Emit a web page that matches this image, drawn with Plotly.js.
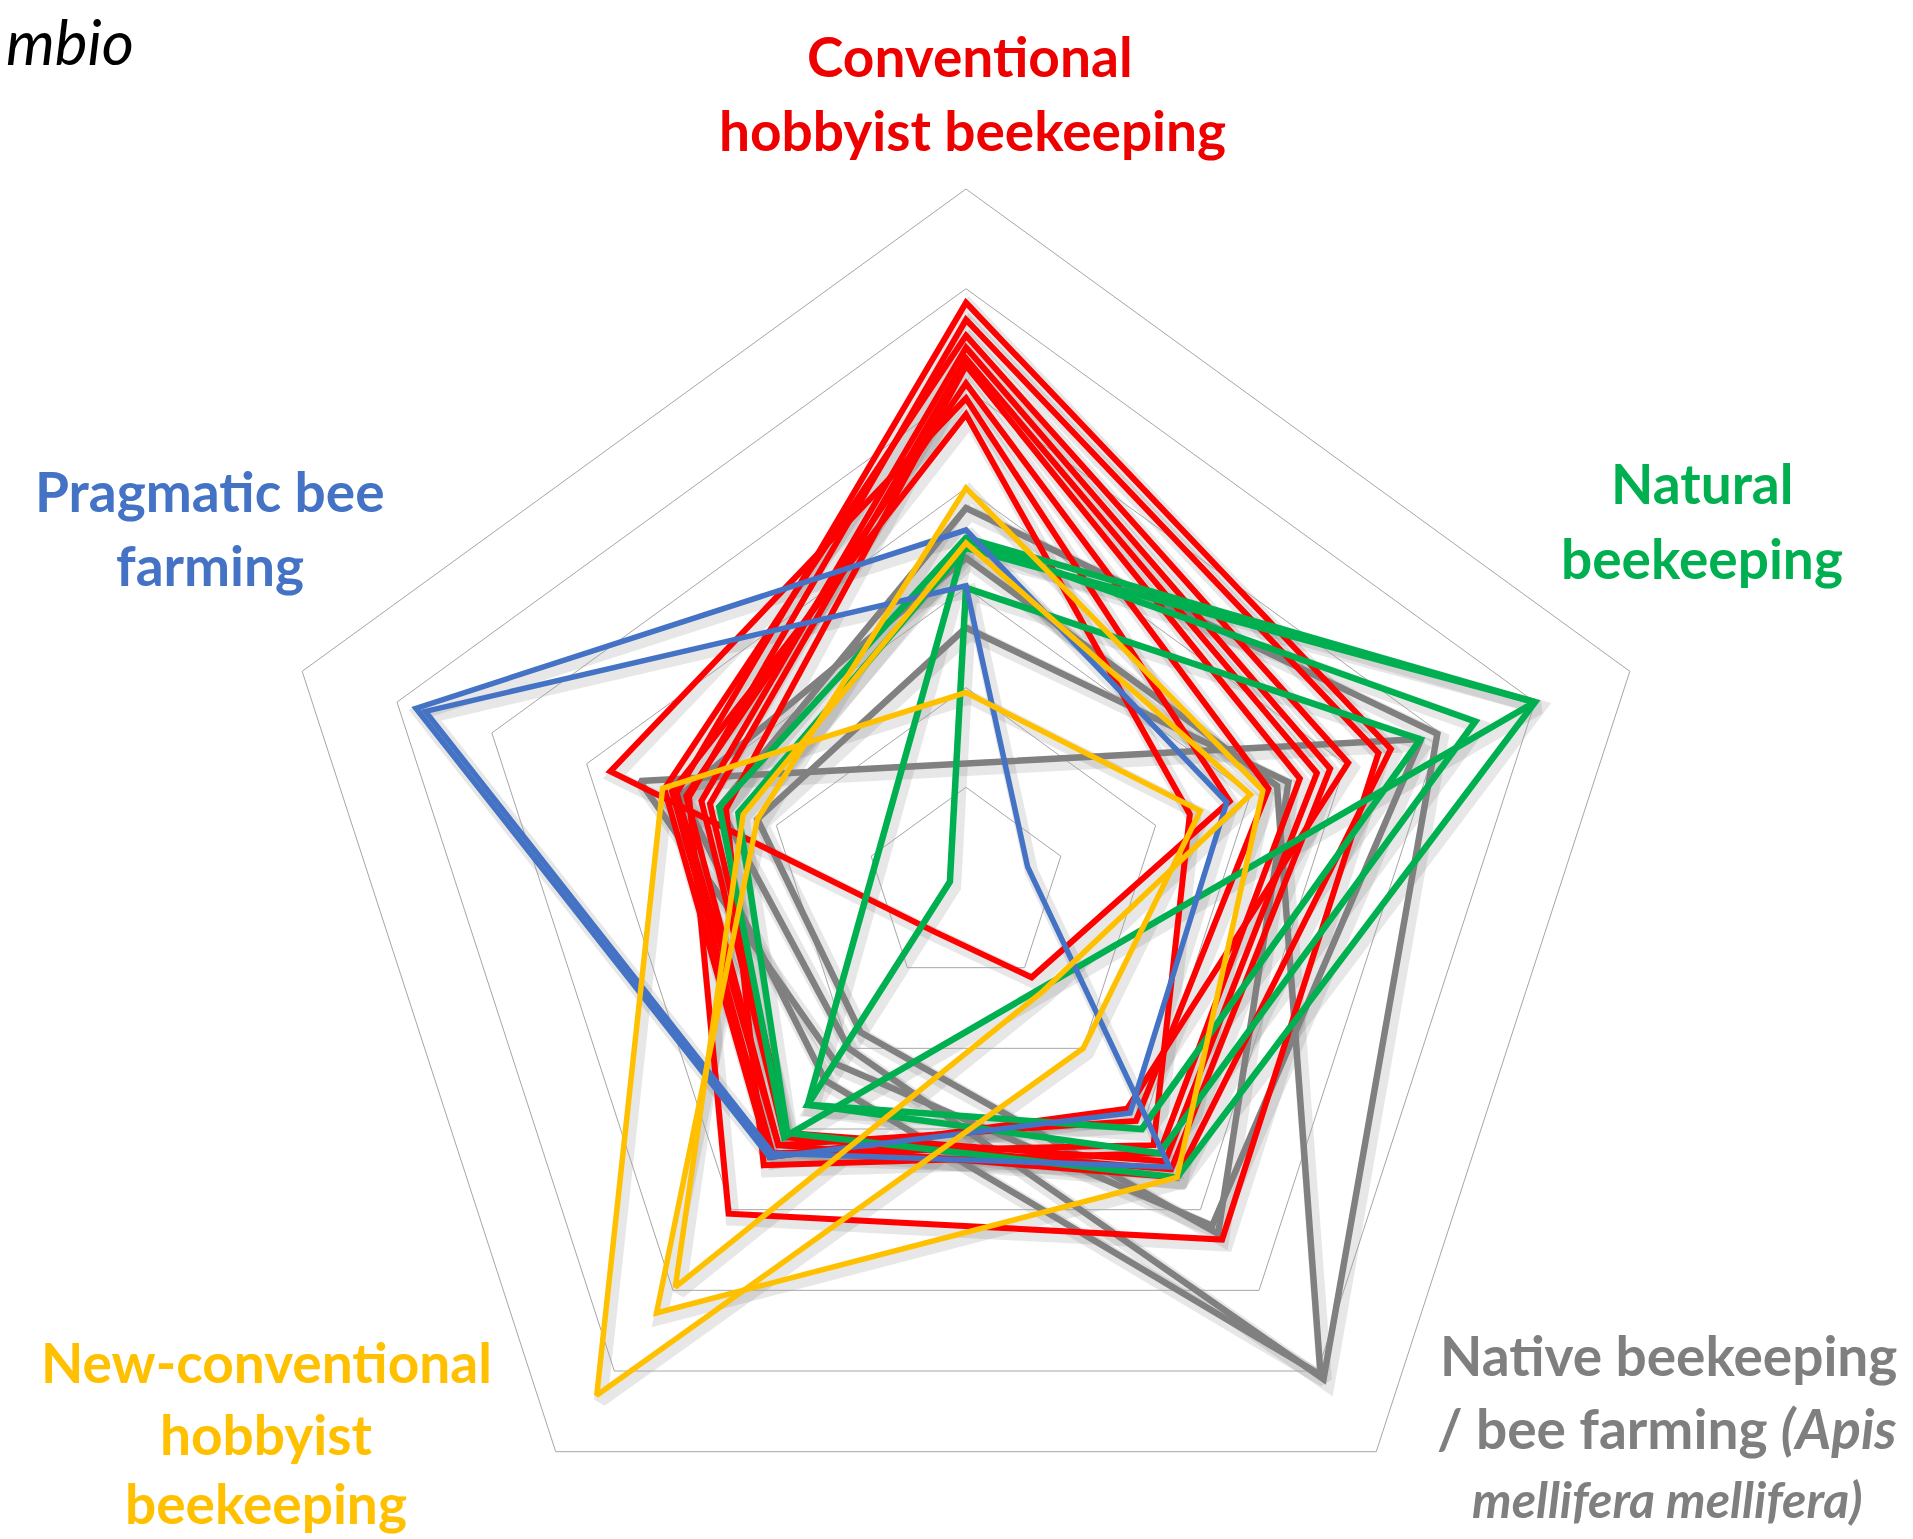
<!DOCTYPE html>
<html>
<head>
<meta charset="utf-8">
<script src="https://cdn.plot.ly/plotly-3.0.1.min.js"></script>
<style>
html,body{margin:0;padding:0;background:#fff;overflow:hidden;}
#chart{width:1913px;height:1600px;}
</style>
</head>
<body>
<div id="chart"></div>
<script>
// Axes (clockwise from top)
const categories = [
  "Conventional hobbyist beekeeping",
  "Natural beekeeping",
  "Native beekeeping / bee farming",
  "New-conventional hobbyist beekeeping",
  "Pragmatic bee farming"
];

// Scores per respondent, order = categories; null = no value (line skips it)
const red1 = [5.86, 4.48, 3.6, 3.2, 3.05];
const red2 = [5.69, 4.35, 4.37, 4.05, 2.92];
const red3 = [5.53, 4.03, 2.75, 3.35, 3.18];
const red4 = [5.41, 3.84, 3.5, 3.1, 2.79];
const red5 = [5.23, 3.52, 3.3, 3.45, 2.53];
const red6 = [5.05, 3.19, 2.9, 3.2, 2.95];
const red7 = [4.9, 2.78, 1.12, 0.55, 3.75];
const red8 = [4.74, 2.36, 3.2, 3.3, 3.1];
const red9 = [5.3, 3.7, 3.4, 3.05, 2.7];

const green1 = [3.5, 6.0, null, 3.1, 2.6];
const green2 = [3.4, 6.0, 3.6, 3.05, 2.4];
const green3 = [3.48, 5.37, 3.3, 2.7, null];
const green4 = [3.0, 4.79, 3.0, 2.7, 0.17];

const blue1 = [3.58, 2.75, 2.8, 3.35, 5.8];
const blue2 = [3.02, 0.65, 3.47, 3.3, 5.7];

const yellow1 = [4.0, 3.13, 3.6, 5.28, 2.2];
const yellow2 = [1.95, 2.47, 2.0, 6.3, 3.2];
const yellow3 = [3.45, 3.0, 1.3, 4.96, 2.35];

const grey1 = [null, 4.8, 4.2, 2.2, 3.44];
const grey2 = [3.8, 4.97, 6.1, 2.0, 2.6];
const grey3 = [3.3, 3.28, 6.05, 2.4, 3.0];
const grey4 = [2.6, 3.4, 4.3, 1.8, 2.2];

const groups = [
  {color: "#808080", width: 6.5, series: [grey1, grey2, grey3, grey4]},
  {color: "#ff0000", width: 6, series: [red1, red2, red3, red4, red5, red6, red7, red8, red9]},
  {color: "#00b050", width: 6.5, series: [green1, green2, green3, green4]},
  {color: "#4472c4", width: 5.5, series: [blue1, blue2]},
  {color: "#ffc000", width: 5.5, series: [yellow1, yellow2, yellow3]}
];

// Labels
const labelLines = [
  {text: "Conventional", x: 970, y: 56, color: "#ee0000"},
  {text: "hobbyist beekeeping", x: 972, y: 130, color: "#ee0000"},
  {text: "Pragmatic bee", x: 210, y: 491, color: "#4472c4"},
  {text: "farming", x: 210, y: 565, color: "#4472c4"},
  {text: "Natural", x: 1702, y: 483, color: "#00b050"},
  {text: "beekeeping", x: 1702, y: 558, color: "#00b050"},
  {text: "New-conventional", x: 266, y: 1362, color: "#ffc000"},
  {text: "hobbyist", x: 266, y: 1434, color: "#ffc000"},
  {text: "beekeeping", x: 266, y: 1503, color: "#ffc000"},
  {text: "Native beekeeping", x: 1668, y: 1355, color: "#7f7f7f"},
  {text: "/ bee farming <i>(Apis</i>", x: 1667, y: 1428, color: "#7f7f7f"},
  {text: "<i>mellifera mellifera)</i>", x: 1667, y: 1499, color: "#7f7f7f", size: 50}
];

const W = 1913, H = 1600;
const CX = 966, CY = 887, R = 698;
const px = x => x / W;
const py = y => 1 - y / H;

function closed(v) { return v.concat(v.slice(0, 2)); }
const theta = closed(categories);

const traces = [];
// shadow layer (polar) then main layer (polar2)
groups.forEach(g => g.series.forEach(s => {
  traces.push({type: "scatterpolar", mode: "lines", r: closed(s), theta: theta,
    connectgaps: true, subplot: "polar", hoverinfo: "skip",
    line: {color: "rgba(70,70,70,0.13)", width: g.width + 8}});
}));
groups.forEach(g => g.series.forEach(s => {
  traces.push({type: "scatterpolar", mode: "lines", r: closed(s), theta: theta,
    connectgaps: true, subplot: "polar2",
    line: {color: g.color, width: g.width}});
}));

function dom(dx, dy) {
  return {
    x: [px(CX - R + dx), px(CX + R + dx)],
    y: [py(CY + R + dy), py(CY - R + dy)]
  };
}

const baseAngular = {type: "category", categoryarray: categories, rotation: 90,
  direction: "clockwise", showticklabels: false, ticks: "", showgrid: false};

const layout = {
  width: W, height: H,
  margin: {l: 0, r: 0, t: 0, b: 0},
  paper_bgcolor: "#ffffff",
  showlegend: false,
  polar: {
    domain: dom(4, 5), bgcolor: "rgba(0,0,0,0)", gridshape: "linear",
    radialaxis: {range: [0, 7], showgrid: false, showline: false, showticklabels: false, ticks: ""},
    angularaxis: Object.assign({}, baseAngular, {showline: false})
  },
  polar2: {
    domain: dom(0, 0), bgcolor: "rgba(0,0,0,0)", gridshape: "linear",
    radialaxis: {range: [0, 7], dtick: 1, showgrid: true, gridcolor: "#a6a6a6", gridwidth: 1,
      showline: false, showticklabels: false, ticks: ""},
    angularaxis: Object.assign({}, baseAngular, {showline: true, linecolor: "#a6a6a6", linewidth: 1})
  },
  annotations: labelLines.map(l => ({
    text: "<b>" + l.text + "</b>", x: px(l.x), y: py(l.y), xref: "paper", yref: "paper",
    xanchor: "center", yanchor: "middle", showarrow: false,
    font: {family: "Lato, 'Open Sans', sans-serif", size: l.size || 55, color: l.color}
  })).concat([{
    text: "<i>mbio</i>", x: px(4), y: py(41), xref: "paper", yref: "paper",
    xanchor: "left", yanchor: "middle", showarrow: false,
    font: {family: "Lato, sans-serif", size: 62, color: "#000000"}
  }])
};

Plotly.newPlot("chart", traces, layout, {displayModeBar: false, staticPlot: true});
</script>
</body>
</html>
